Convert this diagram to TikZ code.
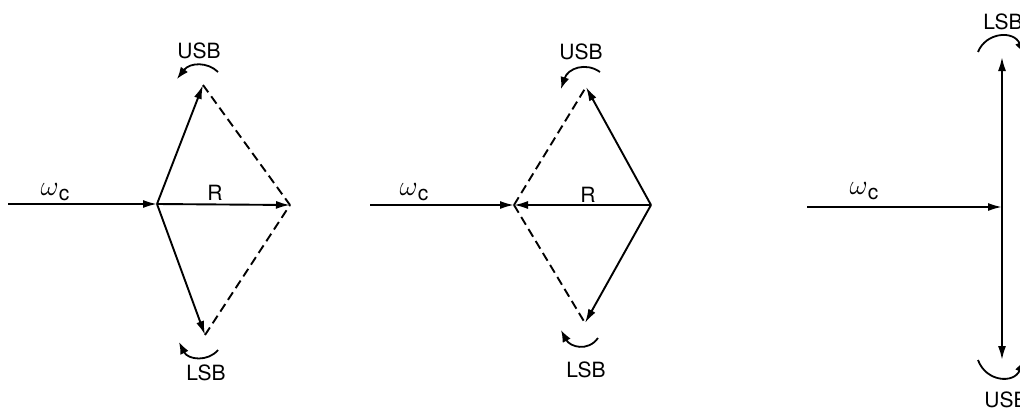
\documentclass[tikz,border=0pt]{standalone}
\usepackage{fontspec}
\setmainfont{TeX Gyre Heros}
\usepackage{graphicx}
\usetikzlibrary{arrows.meta}
\newcommand{\omc}{\scalebox{1.35}{$\omega$}\raisebox{-5pt}{c}}
\begin{document}
\begin{tikzpicture}[x=1pt,y=-1pt,
  vecline/.style={line width=1.9pt,-{Latex[length=14pt,width=8pt]}},
  dashline/.style={line width=1.9pt,dash pattern=on 9pt off 5pt},
  rotarrow/.style={line width=1.8pt,-{Latex[length=12pt,width=9pt]}},
  lbl/.style={font=\fontsize{21}{25}\selectfont,inner sep=0pt}]
\useasboundingbox (0,0) rectangle (1020,410);
% ---------- diagram 1 ----------
\coordinate (a0) at (8,204);
\coordinate (aO) at (157,204);
\coordinate (aR) at (290,205);
\coordinate (aU) at (203,85);
\coordinate (aL) at (205,335);
\draw[vecline] (a0) -- (aO);
\draw[vecline] (aO) -- (aR);
\draw[vecline] (aO) -- (aU);
\draw[vecline] (aO) -- (aL);
\draw[dashline] (aU) -- (aR);
\draw[dashline] (aL) -- (aR);
\coordinate (aUa) at (218,72); \coordinate (aUb) at (177,79);
\draw[rotarrow] (aUa) .. controls (208,62) and (190,62) .. (aUb);
\coordinate (aLa) at (218,350); \coordinate (aLb) at (179,342);
\draw[rotarrow] (aLa) .. controls (208,362) and (188,360) .. (aLb);
\node[lbl] (aUSB) at (199,51) {USB};
\node[lbl] (aLSB) at (206,373) {LSB};
\node[lbl] (aRl) at (215,193) {R};
\node[lbl] (aW) at (55,192) {\omc};
% ---------- diagram 2 ----------
\coordinate (b0) at (370,205);
\coordinate (bO) at (514,205);
\coordinate (bR) at (651,205);
\coordinate (bU) at (586,87);
\coordinate (bL) at (585,323);
\draw[vecline] (b0) -- (bO);
\draw[vecline] (bR) -- (bO);
\draw[vecline] (bR) -- (bU);
\draw[vecline] (bR) -- (bL);
\draw[dashline] (bO) -- (bU);
\draw[dashline] (bO) -- (bL);
\coordinate (bUa) at (600,72); \coordinate (bUb) at (561,89);
\draw[rotarrow] (bUa) .. controls (586,62) and (568,68) .. (bUb);
\coordinate (bLa) at (598,338); \coordinate (bLb) at (561,330);
\draw[rotarrow] (bLa) .. controls (588,352) and (570,347) .. (bLb);
\node[lbl] (bUSB) at (581,52) {USB};
\node[lbl] (bLSB) at (586,370) {LSB};
\node[lbl] (bRl) at (588,195) {R};
\node[lbl] (bW) at (414,192) {\omc};
% ---------- diagram 3 ----------
\coordinate (c0) at (807,207);
\coordinate (cO) at (1002,207);
\coordinate (cT) at (1002,57);
\coordinate (cB) at (1002,360);
\draw[vecline] (c0) -- (cO);
\draw[vecline] (cO) -- (cT);
\draw[vecline] (cO) -- (cB);
\coordinate (cTa) at (978,52); \coordinate (cTb) at (1024,54);
\draw[rotarrow] (cTa) .. controls (986,32) and (1014,30) .. (cTb);
\coordinate (cBa) at (978,360); \coordinate (cBb) at (1024,360);
\draw[rotarrow] (cBa) .. controls (986,382) and (1014,384) .. (cBb);
\node[lbl] (cLSB) at (1003,22) {LSB};
\node[lbl] (cUSB) at (1006,400) {USB};
\node[lbl] (cW) at (864,191) {\omc};
\end{tikzpicture}
\end{document}
